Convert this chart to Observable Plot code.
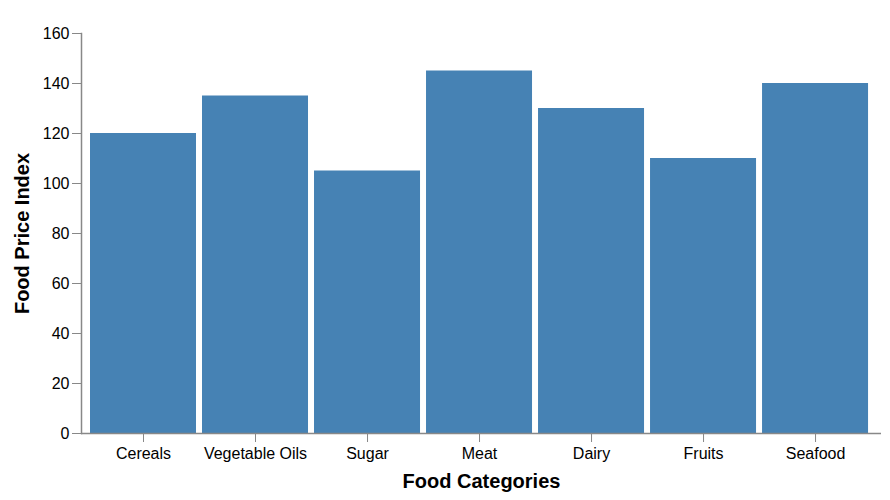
<!DOCTYPE html>
<html>
<head>
<meta charset="utf-8">
<script src="https://cdn.jsdelivr.net/npm/d3@7"></script>
<script src="https://cdn.jsdelivr.net/npm/@observablehq/plot@0.6"></script>
<style>
  html, body { margin: 0; padding: 0; background: #fff; }
  svg { font-family: "Liberation Sans", Arial, sans-serif; }
</style>
</head>
<body>
<div id="chart"></div>
<script>
const categories = ["Cereals", "Vegetable Oils", "Sugar", "Meat", "Dairy", "Fruits", "Seafood"];
const values = [120, 135, 105, 145, 130, 110, 140];
const yTicks = [0, 20, 40, 60, 80, 100, 120, 140, 160];
const xTitle = "Food Categories";
const yTitle = "Food Price Index";

const data = categories.map((c, i) => ({category: c, value: values[i]}));

const chart = Plot.plot({
  width: 890,
  height: 500,
  marginLeft: 81,
  marginRight: 9,
  marginTop: 33,
  marginBottom: 67,
  style: {fontFamily: "Liberation Sans, Arial, sans-serif", background: "#fff"},
  x: {domain: categories, paddingInner: 0.0536, paddingOuter: 0.098, align: 0.41, round: false, label: null},
  y: {domain: [0, 160], label: null},
  marks: [
    Plot.barY(data, {x: "category", y: "value", fill: "#4682b4"}),
    Plot.axisX({tickSize: 9, tickPadding: 5, fontSize: 16, stroke: "#888", fill: "#000", label: null}),
    Plot.axisY({ticks: yTicks, tickSize: 9, tickPadding: 3, fontSize: 16, stroke: "#888", fill: "#000", label: null}),
    Plot.ruleY([0], {stroke: "#888", strokeWidth: 1.5}),
    Plot.frame({anchor: "left", stroke: "#888", strokeWidth: 1.5}),
    Plot.text([xTitle], {frameAnchor: "bottom", dy: 54, fontSize: 20, fontWeight: "bold", fill: "#000"}),
    Plot.text([yTitle], {frameAnchor: "left", textAnchor: "middle", dx: -59, rotate: -90, fontSize: 20, fontWeight: "bold", fill: "#000"})
  ]
});
document.getElementById("chart").appendChild(chart);
</script>
</body>
</html>
